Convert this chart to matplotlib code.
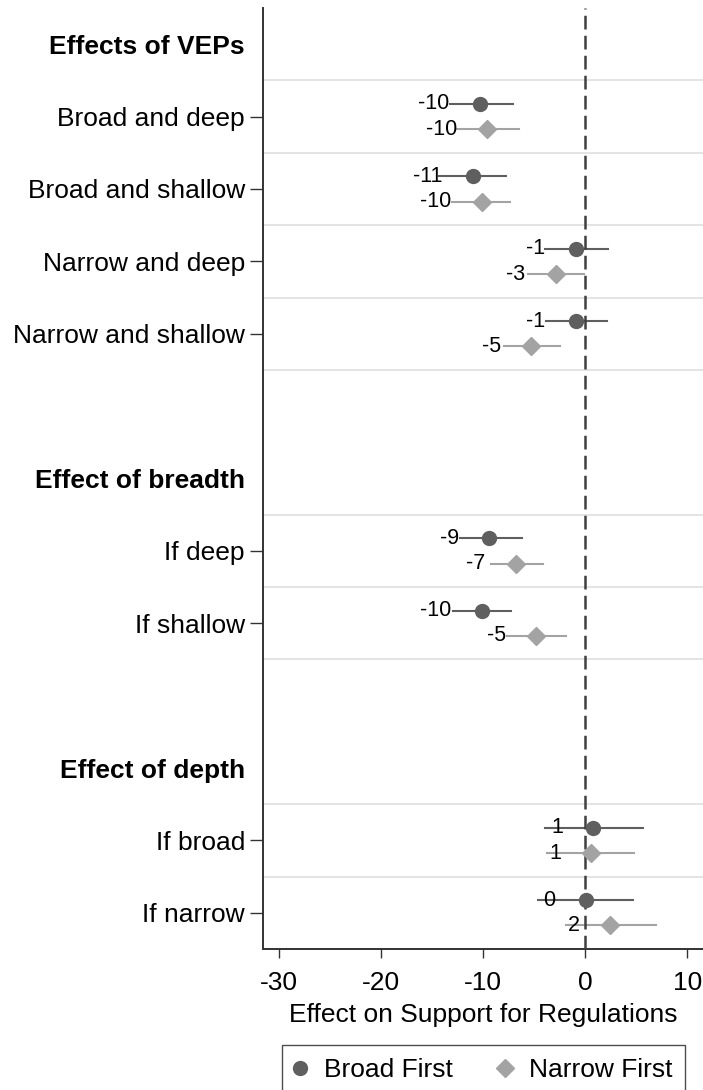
import matplotlib
matplotlib.use("Agg")
import matplotlib.pyplot as plt
from matplotlib.lines import Line2D

# section headers and how many rows each holds
headers = ["Effects of VEPs", "Effect of breadth", "Effect of depth"]
group_sizes = [4, 2, 2]
labels = ["Broad and deep", "Broad and shallow", "Narrow and deep", "Narrow and shallow",
          "If deep", "If shallow", "If broad", "If narrow"]

# Broad First
broad_est = [-10.3, -11.0, -0.9, -0.9, -9.4, -10.1, 0.8, 0.1]
broad_lo = [-13.3, -14.3, -3.9, -3.8, -12.3, -13.0, -3.9, -4.6]
broad_hi = [-7.1, -7.8, 2.2, 2.1, -6.2, -7.3, 5.7, 4.7]
# Narrow First
narrow_est = [-9.6, -10.1, -2.9, -5.3, -6.8, -4.8, 0.6, 2.45]
narrow_lo = [-12.6, -13.1, -5.6, -8.0, -9.2, -7.7, -3.7, -1.9]
narrow_hi = [-6.5, -7.4, -0.1, -2.5, -4.1, -1.9, 4.8, 6.9]

plt.rcParams['font.family'] = ['Liberation Sans', 'DejaVu Sans']
fs = 19
dark = '#5f5f5f'
light = '#a3a3a3'

fig = plt.figure(figsize=(7.03, 10.9), dpi=100)
ax = fig.add_axes([263 / 703, 1 - 949 / 1090, 440 / 703, 941 / 1090])

# work out row positions: header, its rows, then one blank row
row_pos, tick_pos, tick_lab = [], [], []
y = 0
for h, n in zip(headers, group_sizes):
    tick_pos.append(y)
    tick_lab.append(h)
    ax.axhline(y + 0.5, color='#e2e2e2', lw=1.3, zorder=1)
    for k in range(n):
        y += 1
        row_pos.append(y)
        tick_pos.append(y)
        tick_lab.append(labels[len(row_pos) - 1])
        ax.axhline(y + 0.5, color='#e2e2e2', lw=1.3, zorder=1)
    y += 2

off = 0.175
ax.axvline(0, color='#404040', lw=1.8, dashes=(5.5, 2.5), zorder=3)
for i, yy in enumerate(row_pos):
    yb = yy - off
    yn = yy + off
    ax.plot([broad_lo[i], broad_hi[i]], [yb, yb], color=dark, lw=1.5, zorder=2)
    ax.plot([narrow_lo[i], narrow_hi[i]], [yn, yn], color=light, lw=1.5, zorder=2)
    ax.plot(broad_est[i], yb, 'o', ms=10, color=dark, mec=dark, zorder=4)
    ax.plot(narrow_est[i], yn, 'D', ms=9.5, color=light, mec=light, zorder=4)
    ax.annotate(f"{broad_est[i]:.0f}", (broad_est[i], yb), xytext=(-22, 0),
                textcoords='offset points', ha='right', va='center',
                fontsize=15.5, zorder=5)
    ax.annotate(f"{narrow_est[i]:.0f}", (narrow_est[i], yn), xytext=(-22, 0),
                textcoords='offset points', ha='right', va='center',
                fontsize=15.5, zorder=5)

ax.set_xlim(-31.6, 11.55)
ax.set_ylim(12.5, -0.5)
ax.set_xticks([-30, -20, -10, 0, 10])
ax.set_xticklabels(['-30', '-20', '-10', '0', '10'])
ax.set_yticks(tick_pos)
ax.set_yticklabels(tick_lab)
ax.tick_params(axis='y', length=9.5, width=1.0, color='#333333', pad=3.5, labelsize=fs)
ax.tick_params(axis='x', length=6.5, width=1.0, color='#333333', pad=9, labelsize=fs)
for t, lab in zip(ax.yaxis.get_major_ticks(), tick_lab):
    if lab in headers:
        t.tick1line.set_visible(False)
        t.label1.set_fontweight('bold')

for s in ['top', 'right']:
    ax.spines[s].set_visible(False)
for s in ['left', 'bottom']:
    ax.spines[s].set_color('#333333')
    ax.spines[s].set_linewidth(1.4)

ax.set_xlabel('Effect on Support for Regulations', fontsize=fs, labelpad=6)

handles = [Line2D([], [], ls='none', marker='o', ms=10, color=dark),
           Line2D([], [], ls='none', marker='D', ms=9.5, color=light)]
leg = fig.legend(handles, ['Broad First', 'Narrow First'], ncol=2, loc='upper left',
                 bbox_to_anchor=(282 / 703, 1 - 1045 / 1090), borderaxespad=0,
                 fontsize=fs, frameon=True, fancybox=False, handlelength=0.4,
                 handletextpad=0.68, columnspacing=1.8, borderpad=0.5)
leg.get_frame().set_edgecolor('#222222')
leg.get_frame().set_linewidth(1.0)

fig.savefig('out.png', dpi=100)
